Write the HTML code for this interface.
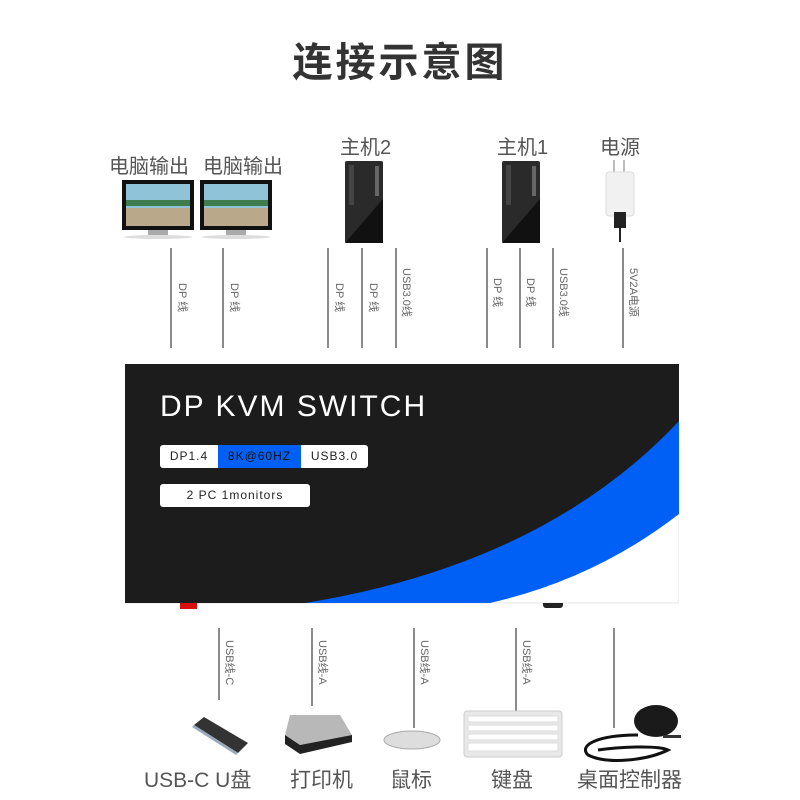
<!DOCTYPE html><html><head><meta charset="utf-8"><style>
body{margin:0;width:800px;height:800px;background:#fff;position:relative;overflow:hidden;font-family:"Liberation Sans","Noto Sans CJK SC",sans-serif}
.a{position:absolute}
.t{color:#555;font-size:20px;white-space:nowrap}
.vl{position:absolute;width:2px;background:#8a8a8a}
.vt{position:absolute;transform-origin:0 0;transform:rotate(90deg);font-size:11px;line-height:12px;color:#666;white-space:nowrap}
.tag{position:absolute;height:23px;line-height:23px;font-size:12px;text-align:center;background:#fff;color:#222;letter-spacing:1px}
</style></head><body>
<div class="a" style="left:0;width:800px;top:30px;text-align:center;font-size:40px;font-weight:bold;color:#333;letter-spacing:3px">连接示意图</div>
<div class="a t" style="left:109px;top:150px">电脑输出</div>
<div class="a t" style="left:203px;top:150px">电脑输出</div>
<div class="a t" style="left:340px;top:131px">主机2</div>
<div class="a t" style="left:497px;top:131px">主机1</div>
<div class="a t" style="left:600px;top:131px">电源</div>
<svg class="a" style="left:118px;top:180px" width="160" height="62">
<g id="m"><rect x="4" y="0" width="72" height="50" fill="#111"/><rect x="8" y="4" width="64" height="42" fill="#8fc3d8"/><rect x="8" y="28" width="64" height="18" fill="#b9a98a"/><rect x="8" y="20" width="64" height="6" fill="#3f7d4f"/><rect x="30" y="50" width="20" height="5" fill="#aaa"/><ellipse cx="40" cy="57" rx="34" ry="2" fill="#ddd"/></g>
<use href="#m" x="78"/></svg>
<svg class="a" style="left:344px;top:161px" width="40" height="82"><rect x="1" y="0" width="38" height="82" rx="2" fill="#2a2a2a"/><polygon points="1,82 39,82 39,38" fill="#111"/><rect x="5" y="4" width="5" height="40" fill="#444"/><rect x="31" y="5" width="4" height="30" fill="#666"/></svg>
<svg class="a" style="left:501px;top:161px" width="40" height="82"><rect x="1" y="0" width="38" height="82" rx="2" fill="#2a2a2a"/><polygon points="1,82 39,82 39,38" fill="#111"/><rect x="5" y="4" width="5" height="40" fill="#444"/><rect x="31" y="5" width="4" height="30" fill="#666"/></svg>
<svg class="a" style="left:604px;top:160px" width="32" height="82"><rect x="9" y="0" width="2" height="14" fill="#bbb"/><rect x="19" y="0" width="2" height="14" fill="#bbb"/><rect x="2" y="12" width="28" height="44" rx="3" fill="#f1f1f1" stroke="#ddd"/><rect x="10" y="52" width="12" height="16" fill="#222"/><rect x="15" y="68" width="2" height="14" fill="#222"/></svg>
<div class="vl" style="left:170px;top:248px;height:100px"></div><div class="vt" style="left:188px;top:283px">DP 线</div>
<div class="vl" style="left:222px;top:248px;height:100px"></div><div class="vt" style="left:240px;top:283px">DP 线</div>
<div class="vl" style="left:327px;top:248px;height:100px"></div><div class="vt" style="left:345px;top:283px">DP 线</div>
<div class="vl" style="left:361px;top:248px;height:100px"></div><div class="vt" style="left:379px;top:283px">DP 线</div>
<div class="vl" style="left:395px;top:248px;height:100px"></div><div class="vt" style="left:412px;top:268px">USB3.0线</div>
<div class="vl" style="left:486px;top:248px;height:100px"></div><div class="vt" style="left:503px;top:278px">DP 线</div>
<div class="vl" style="left:519px;top:248px;height:100px"></div><div class="vt" style="left:536px;top:278px">DP 线</div>
<div class="vl" style="left:552px;top:248px;height:100px"></div><div class="vt" style="left:569px;top:268px">USB3.0线</div>
<div class="vl" style="left:622px;top:248px;height:100px"></div><div class="vt" style="left:639px;top:268px">5V2A电源</div>
<svg class="a" style="left:125px;top:364px" width="554" height="240">
<rect width="554" height="239" fill="#fff" stroke="#e6e6e6"/>
<path d="M0,0H554V150Q470,215 365,239H0Z" fill="#0060f5"/>
<path d="M0,0H554V57Q420,200 180,239H0Z" fill="#1c1c1c"/>
</svg>
<div class="a" style="left:160px;top:390px;font-size:30px;color:#fff;letter-spacing:2px">DP KVM SWITCH</div>
<div class="tag" style="left:160px;top:445px;width:58px;border-radius:3px 0 0 3px">DP1.4</div>
<div class="tag" style="left:218px;top:445px;width:83px;background:#0060f5;color:#111">8K@60HZ</div>
<div class="tag" style="left:301px;top:445px;width:67px;border-radius:0 3px 3px 0">USB3.0</div>
<div class="tag" style="left:160px;top:484px;width:150px;border-radius:3px">2 PC 1monitors</div>
<div class="a" style="left:180px;top:603px;width:17px;height:6px;background:#d81010"></div>
<div class="a" style="left:543px;top:603px;width:20px;height:5px;background:#222;border-radius:0 0 3px 3px"></div>
<div class="vl" style="left:218px;top:628px;height:72px"></div><div class="vt" style="left:235px;top:640px">USB线-C</div>
<div class="vl" style="left:311px;top:628px;height:78px"></div><div class="vt" style="left:328px;top:640px">USB线-A</div>
<div class="vl" style="left:413px;top:628px;height:100px"></div><div class="vt" style="left:430px;top:640px">USB线-A</div>
<div class="vl" style="left:515px;top:628px;height:85px"></div><div class="vt" style="left:532px;top:640px">USB线-A</div>
<div class="vl" style="left:613px;top:628px;height:100px"></div>
<svg class="a" style="left:190px;top:715px" width="60" height="40"><polygon points="4,10 14,2 58,28 48,38" fill="#333"/><polygon points="4,10 48,38 46,40 2,12" fill="#9ab"/></svg>
<svg class="a" style="left:280px;top:710px" width="75" height="45"><polygon points="10,5 60,5 72,25 20,35 5,25" fill="#b8b8b8"/><polygon points="5,25 20,35 72,25 72,32 20,44 5,34" fill="#222"/></svg>
<svg class="a" style="left:382px;top:728px" width="60" height="24"><ellipse cx="30" cy="12" rx="28" ry="9" fill="#ddd" stroke="#aaa"/></svg>
<svg class="a" style="left:463px;top:710px" width="100" height="48"><rect x="1" y="1" width="98" height="46" rx="3" fill="#e8e8e8" stroke="#ccc"/><g fill="#fff" stroke="#ddd"><rect x="5" y="6" width="90" height="6"/><rect x="5" y="15" width="90" height="6"/><rect x="5" y="24" width="90" height="6"/><rect x="5" y="33" width="90" height="8"/></g></svg>
<svg class="a" style="left:578px;top:705px" width="106" height="58"><ellipse cx="78" cy="16" rx="22" ry="16" fill="#1a1a1a"/><path d="M60,30 C20,30 0,40 10,50 C30,60 70,55 90,45 C80,40 40,42 20,45" stroke="#111" stroke-width="3" fill="none"/><rect x="85" y="30" width="18" height="3" fill="#333"/></svg>
<div class="a t" style="left:144px;top:764px;font-size:21px">USB-C U盘</div>
<div class="a t" style="left:290px;top:764px;font-size:21px">打印机</div>
<div class="a t" style="left:390px;top:764px;font-size:21px">鼠标</div>
<div class="a t" style="left:491px;top:764px;font-size:21px">键盘</div>
<div class="a t" style="left:577px;top:764px;font-size:21px">桌面控制器</div>
</body></html>
